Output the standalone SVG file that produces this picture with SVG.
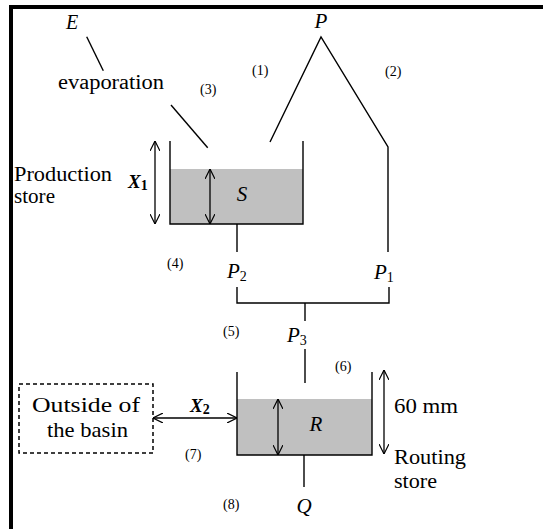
<svg xmlns="http://www.w3.org/2000/svg" width="543" height="529" viewBox="0 0 543 529">
<style>
.ln{fill:none;stroke:#000;stroke-width:1.4}
.arr{fill:none;stroke:#000;stroke-width:1.3;marker-start:url(#ah);marker-end:url(#ah)}
.t{font-family:"Liberation Serif","Times New Roman",serif;fill:#000}
.it{font-family:"Liberation Serif","Times New Roman",serif;font-style:italic;fill:#000}
.sub{font-style:normal;font-size:14px}
.sm{font-family:"Liberation Serif","Times New Roman",serif;font-size:14px;fill:#000}
.water{fill:#c0c0c0;stroke:none}
</style>
<defs>
<marker id="ah" viewBox="0 0 10 10" refX="10" refY="5" markerWidth="10" markerHeight="10" markerUnits="userSpaceOnUse" orient="auto-start-reverse">
<path d="M0,0 L10,5 L0,10" fill="none" stroke="#000" stroke-width="1.2"/>
</marker>
</defs>
<rect width="543" height="529" fill="#fff"/>
<path d="M11,529 V7 H543" fill="none" stroke="#000" stroke-width="4"/>

<g id="production-store">
<rect class="water" x="170" y="169" width="133" height="55"/>
<path class="ln" d="M170,141 V224 H303 V141"/>
<text class="it" x="242" y="201" font-size="21" text-anchor="middle">S</text>
<text class="t" x="14" y="181" font-size="20" textLength="98" lengthAdjust="spacingAndGlyphs">Production</text>
<text class="t" x="14" y="203" font-size="20" textLength="41" lengthAdjust="spacingAndGlyphs">store</text>
<text class="it" x="128" y="188" font-size="19" font-weight="bold">X<tspan class="sub" font-weight="bold" dy="2">1</tspan></text>
</g>

<g id="routing-store">
<rect class="water" x="237" y="399" width="135" height="56"/>
<path class="ln" d="M237,372 V455 H372 V372"/>
<text class="it" x="316" y="431" font-size="21" text-anchor="middle">R</text>
<text class="t" x="394" y="413" font-size="21" textLength="64" lengthAdjust="spacingAndGlyphs">60 mm</text>
<text class="t" x="394" y="464" font-size="22" textLength="72" lengthAdjust="spacingAndGlyphs">Routing</text>
<text class="t" x="394" y="488" font-size="22" textLength="43" lengthAdjust="spacingAndGlyphs">store</text>
</g>

<g id="outside">
<rect x="19" y="384" width="134" height="69" fill="none" stroke="#000" stroke-width="1.5" stroke-dasharray="4,3"/>
<text class="t" x="32" y="412" font-size="21" textLength="108" lengthAdjust="spacingAndGlyphs">Outside of</text>
<text class="t" x="47" y="437" font-size="21" textLength="81" lengthAdjust="spacingAndGlyphs">the basin</text>
</g>

<g id="labels">
<text class="it" x="72" y="29" font-size="20" text-anchor="middle">E</text>
<text class="t" x="58" y="89" font-size="20" textLength="106" lengthAdjust="spacingAndGlyphs">evaporation</text>
<text class="it" x="321" y="28" font-size="21" text-anchor="middle">P</text>
<text class="it" x="227" y="278" font-size="21">P<tspan class="sub" dy="3">2</tspan></text>
<text class="it" x="374" y="279" font-size="21">P<tspan class="sub" dy="3">1</tspan></text>
<text class="it" x="287" y="342" font-size="21">P<tspan class="sub" dy="3">3</tspan></text>
<text class="it" x="304" y="513" font-size="21" text-anchor="middle">Q</text>
<text class="it" x="190" y="412" font-size="19" font-weight="bold">X<tspan class="sub" font-weight="bold" dy="2">2</tspan></text>
<text class="sm" x="252" y="75">(1)</text>
<text class="sm" x="385" y="76">(2)</text>
<text class="sm" x="200" y="94">(3)</text>
<text class="sm" x="167" y="268">(4)</text>
<text class="sm" x="223" y="336">(5)</text>
<text class="sm" x="335" y="371">(6)</text>
<text class="sm" x="185" y="459">(7)</text>
<text class="sm" x="223" y="509">(8)</text>
</g>

<g id="connectors">
<path class="ln" d="M270,142 L321,37 L388,147 V252"/>
<path class="ln" d="M86.7,36.7 L103.3,70.7"/>
<path class="ln" d="M171,105 L207.7,147.7"/>
<path class="ln" d="M237,224 V252"/>
<path class="ln" d="M237,287 V303 H389 V287"/>
<path class="ln" d="M305,303 V321"/>
<path class="ln" d="M305,349 V383"/>
<path class="ln" d="M304,455 V487"/>
<path class="arr" d="M155,141 V224"/>
<path class="arr" d="M210,169 V224"/>
<path class="arr" d="M278,399 V455"/>
<path class="arr" d="M384,370 V454"/>
<path class="arr" d="M153,418 H237"/>
</g>
</svg>
